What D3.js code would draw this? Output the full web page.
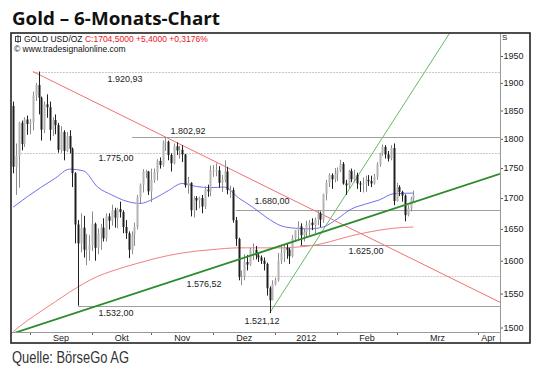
<!DOCTYPE html>
<html><head><meta charset="utf-8">
<script src="https://cdn.jsdelivr.net/npm/d3@7"></script>
<style>
html,body{margin:0;padding:0;background:#fff;}
svg{display:block;}
</style></head>
<body>
<svg id="c" width="540" height="370"></svg>
<script>
// ---------- DATA ----------
const startDate = "2011-08-24";   // first trading day shown (weekdays through 2012-03-09)
const open  = [1858,1752,1771,1828,1791,1834,1826,1829,1877,1896,1873,1816,1861,1856,1816,1833,1824,1781,1812,1779,1805,1783,1741,1657,1627,1652,1617,1617,
1624,1658,1620,1642,1652,1635,1670,1663,1680,1668,1682,1677,1653,1643,1617,1641,1653,1701,1722,1744,1744,
1711,1730,1743,1762,1755,1793,1795,1772,1758,1787,1780,1781,1773,1721,1725,1680,1700,1696,1700,1686,1714,1711,
1746,1746,1746,1725,1730,1744,1713,1713,1664,1634,1575,1576,1598,1594,1617,1617,1608,1605,1600,1595,1558,1540,
1564,1570,1600,1612,1620,1617,1607,1635,1648,1654,1640,1645,1656,1660,1656,1665,1675,1665,1706,1725,1738,1731,
1740,1746,1757,1724,1721,1745,1731,1738,1724,1723,1724,1730,1728,1724,1735,1756,1775,1786,1773,1766,1784,
1695,1718,1710,1704,1672,1683,1699];
const high  = [1866,1792,1830,1832,1838,1841,1835,1884,1900,1920.93,1875,1866,1879,1866,1838,1843,1828,1822,1815,1812,1815,1785,1743,1664,1675,1671,1642,1640,
1678,1660,1651,1658,1667,1675,1675,1689,1684,1684,1694,1680,1664,1646,1646,1660,1705,1724,1748,1747,1745,
1749,1749,1765,1768,1797,1802.92,1797,1775,1792,1794,1788,1789,1774,1735,1726,1703,1703,1702,1705,1719,1722,1754,
1755,1758,1753,1738,1763,1752,1720,1717,1669,1636,1585,1610,1609,1620,1627,1623,1612,1608,1605,1597,1561,1570,
1574,1612,1625,1625,1627,1620,1640,1648,1662,1659,1650,1663,1664,1667,1668,1680,1678,1707,1730,1741,1741,1750,
1751,1764,1760,1730,1747,1749,1747,1742,1728,1734,1737,1738,1737,1740,1760,1776,1790,1789,1779,1789,1792,
1725,1721,1712,1706,1688,1702,1712];
const low   = [1741,1705,1717,1780,1786,1807,1808,1815,1867,1843,1797,1810,1837,1797,1805,1808,1776,1776,1763,1777,1775,1718,1627,1532,1613,1605,1593,1600,
1615,1600,1610,1617,1630,1630,1649,1655,1652,1651,1668,1643,1634,1604,1610,1623,1649,1690,1709,1733,1705,
1693,1725,1729,1749,1752,1779,1763,1744,1756,1772,1766,1760,1717,1707,1670,1668,1680,1683,1675,1682,1702,1703,
1735,1736,1717,1710,1726,1706,1700,1660,1623,1570,1563,1570,1585,1592,1601,1602,1598,1595,1585,1547,1521.12,1540,
1562,1568,1595,1598,1603,1595,1605,1630,1633,1624,1630,1637,1639,1648,1643,1656,1653,1660,1696,1718,1715,1726,
1728,1743,1722,1705,1716,1726,1726,1715,1710,1709,1710,1720,1718,1722,1730,1752,1771,1766,1761,1763,1688,
1694,1703,1694,1662,1670,1678,1693];
const close = [1752,1771,1828,1791,1834,1826,1829,1877,1896,1873,1816,1861,1856,1816,1833,1824,1781,1812,1779,1805,1783,1741,1657,1627,1652,1617,1617,1624,
1658,1620,1642,1652,1635,1670,1663,1680,1668,1682,1677,1653,1643,1617,1641,1653,1701,1722,1744,1744,1711,
1730,1743,1762,1755,1793,1795,1772,1758,1787,1780,1781,1773,1721,1725,1680,1700,1696,1700,1686,1714,1711,1746,
1746,1746,1725,1730,1744,1713,1713,1664,1634,1575,1576,1598,1594,1617,1617,1608,1605,1600,1595,1558,1540,1564,
1570,1600,1612,1620,1617,1607,1635,1648,1654,1640,1645,1656,1660,1656,1665,1675,1665,1706,1725,1738,1731,1740,
1746,1757,1724,1721,1745,1731,1738,1724,1723,1724,1730,1728,1724,1735,1756,1775,1786,1773,1766,1784,1695,
1718,1710,1704,1672,1683,1699,1704.5];

// 50-day average (blue) and 200-day average (red), read at bar indices
const ma50Idx  = [0,5,10,15,20,25,30,35,40,45,50,55,60,65,70,75,80,85,90,95,100,105,110,115,120,125,130,135,142];
const ma50     = [1685,1702,1718,1733,1748,1745,1718,1705,1695,1691,1699,1712,1724,1719,1717,1718,1700,1685,1668,1655,1651,1650,1653,1666,1682,1690,1697,1707,1708];
const ma200Idx = [0,5,10,15,20,25,30,35,40,45,50,55,60,65,70,75,80,85,90,95,100,105,110,115,120,125,130,135,142];
const ma200    = [1494,1510,1524,1538,1552,1565,1576,1584,1591,1597,1603,1608,1612,1615,1617,1619,1620,1620,1620,1620,1621,1623,1627,1633,1639,1644,1648,1651,1653];

// horizontal levels
const levelValues = [1920.93, 1802.92, 1775.00, 1680.00, 1625.00, 1576.52, 1532.00];
const levelLabels = ["1.920,93","1.802,92","1.775,00","1.680,00","1.625,00","1.576,52","1.532,00"];
const lowLabel = "1.521,12";

// trend lines: [barIndex, price]
const trendDown  = [[7, 1920.93], [172.7, 1537]];
const trendUp    = [[-0.4, 1491], [172.7, 1740]];
const trendSteep = [[91, 1521.12], [154.9, 1994]];

const yTicks = [1500,1550,1600,1650,1700,1750,1800,1850,1900,1950];
const monthLabels = ["Sep","Okt","Nov","Dez","2012","Feb","Mrz","Apr"];
const monthStartIdx = [6,28,49,71,93,115,136,165];

// ---------- CHART ----------
const svg = d3.select("#c");
const plotL = 12, plotR = 500, plotT = 33, plotB = 332;
const x = d3.scaleLinear().domain([-0.4, 172.7]).range([plotL, plotR]);
const y = d3.scaleLog().domain([1500, 1950]).range([327.5, 56]);

const FONT = "'Liberation Sans', Arial, sans-serif";

// Title
svg.append("text").attr("x", 12).attr("y", 25)
  .attr("font-family", "'Open Sans', sans-serif").attr("font-weight", 700)
  .attr("font-size", 18).attr("fill", "#111")
  .attr("textLength", 208).attr("lengthAdjust", "spacingAndGlyphs")
  .text("Gold – 6-Monats-Chart");

// Source
svg.append("text").attr("x", 12).attr("y", 363)
  .attr("font-family", "'Liberation Sans Narrow', 'Liberation Sans', Arial, sans-serif")
  .attr("font-size", 16).attr("fill", "#333")
  .attr("textLength", 117).attr("lengthAdjust", "spacingAndGlyphs")
  .text("Quelle: BörseGo AG");

const clip = svg.append("defs").append("clipPath").attr("id","pc")
  .append("rect").attr("x", plotL).attr("y", plotT).attr("width", plotR-plotL).attr("height", plotB-plotT);

const g = svg.append("g").attr("clip-path","url(#pc)");

// level lines
const levelStart = [7, 42.2, 1.7, 79, 101.8, 80, 23];
const levelDash  = [true, false, true, false, false, true, false];
levelValues.forEach((v,i)=>{
  g.append("line")
    .attr("x1", x(levelStart[i])).attr("x2", plotR)
    .attr("y1", Math.round(y(v))+0.5).attr("y2", Math.round(y(v))+0.5)
    .attr("stroke", levelDash[i] ? "#c8c8c8" : "#a0a0a0")
    .attr("stroke-width", 1)
    .attr("stroke-dasharray", levelDash[i] ? "2,1" : null);
});

// moving averages
const lineGen = d3.line().x(d=>x(d[0])).y(d=>y(d[1])).curve(d3.curveMonotoneX);
g.append("path").datum(ma200Idx.map((d,i)=>[d, ma200[i]]))
  .attr("d", lineGen).attr("fill","none").attr("stroke","#f08080").attr("stroke-width",1);
g.append("path").datum(ma50Idx.map((d,i)=>[d, ma50[i]]))
  .attr("d", lineGen).attr("fill","none").attr("stroke","#7070f0").attr("stroke-width",1);

// trend lines
const tl = d3.line().x(d=>x(d[0])).y(d=>y(d[1]));
g.append("path").datum(trendDown).attr("d", tl).attr("stroke","#f07070").attr("stroke-width",1).attr("fill","none");
g.append("path").datum(trendSteep).attr("d", tl).attr("stroke","#66bb66").attr("stroke-width",1).attr("fill","none");

// candles
const bars = close.map((c,i)=>({i, o:open[i], h:high[i], l:low[i], c}));
const cg = g.append("g");
bars.forEach(b=>{
  const up = b.c >= b.o;
  const cx = Math.round(x(b.i)) + 0.5;
  cg.append("line").attr("x1",cx).attr("x2",cx).attr("y1",y(b.h)).attr("y2",y(b.l))
    .attr("stroke", up ? "#8c8c8c" : "#202020").attr("stroke-width",1);
  const top = y(Math.max(b.o,b.c)), bot = y(Math.min(b.o,b.c));
  cg.append("rect").attr("x", cx-1).attr("y", top).attr("width", 2).attr("height", Math.max(1, bot-top))
    .attr("fill", up ? "#b4b4b4" : "#202020");
});

g.append("path").datum(trendUp).attr("d", tl).attr("stroke","#2c8c2c").attr("stroke-width",1.8).attr("fill","none");

// level labels
const lblPos = [[125,79],[188,131],[116,158],[272,201],[366,251],[204,284],[116,313]];
levelLabels.forEach((t,i)=>{
  svg.append("text").attr("x", lblPos[i][0]).attr("y", lblPos[i][1]).attr("dy","0.35em")
    .attr("text-anchor","middle").attr("font-family",FONT).attr("font-size",9).attr("fill","#222").text(t);
});
svg.append("text").attr("x", 262).attr("y", 321).attr("dy","0.35em")
  .attr("text-anchor","middle").attr("font-family",FONT).attr("font-size",9).attr("fill","#222").text(lowLabel);

// legend
svg.append("rect").attr("x",15.5).attr("y",36.5).attr("width",5).attr("height",5).attr("fill","none").attr("stroke","#444");
svg.append("line").attr("x1",18).attr("x2",18).attr("y1",35).attr("y2",43).attr("stroke","#444");
const lg = svg.append("text").attr("x",24).attr("y",42).attr("font-family",FONT).attr("font-size",8.5);
lg.append("tspan").attr("fill","#111").text("GOLD USD/OZ ");
lg.append("tspan").attr("fill","#e8141e").text("C:1704,5000 +5,4000 +0,3176%");
svg.append("text").attr("x",14).attr("y",52).attr("font-family",FONT).attr("font-size",8.5).attr("fill","#111")
  .text("© www.tradesignalonline.com");

// right axis
const ya = d3.axisRight(y).tickValues(yTicks).tickSize(3).tickFormat(d3.format("d"));
const yag = svg.append("g").attr("transform",`translate(${plotR},0)`).call(ya);
yag.select(".domain").remove();
yag.selectAll("line").attr("stroke","#555");
yag.selectAll("text").attr("font-family",FONT).attr("font-size",9).attr("fill","#222").attr("x",3.5);
svg.append("text").attr("x",502).attr("y",40).attr("font-family",FONT).attr("font-size",8).attr("fill","#222").text("S");

// bottom axis
const monthEnds = monthStartIdx.slice(1).concat([190]);
monthLabels.forEach((m,i)=>{
  svg.append("line").attr("x1",Math.round(x(monthStartIdx[i]))+0.5).attr("x2",Math.round(x(monthStartIdx[i]))+0.5)
    .attr("y1",plotB+1).attr("y2",plotB+3).attr("stroke","#666");
  let cx = (x(monthStartIdx[i]) + x(monthEnds[i]))/2;
  if (i === monthLabels.length-1) cx = x(monthStartIdx[i]) + 10;
  svg.append("text").attr("x",cx).attr("y",341).attr("text-anchor","middle")
    .attr("font-family",FONT).attr("font-size",9).attr("fill","#222").text(m);
});

// frame lines
svg.append("line").attr("x1",plotL).attr("x2",plotR).attr("y1",plotB+0.5).attr("y2",plotB+0.5).attr("stroke","#999");
svg.append("line").attr("x1",plotR+0.5).attr("x2",plotR+0.5).attr("y1",plotT).attr("y2",343).attr("stroke","#999");
svg.append("rect").attr("x",11).attr("y",33).attr("width",519).attr("height",310)
  .attr("fill","none").attr("stroke","#222").attr("stroke-width",1.6);
</script>
</body></html>
